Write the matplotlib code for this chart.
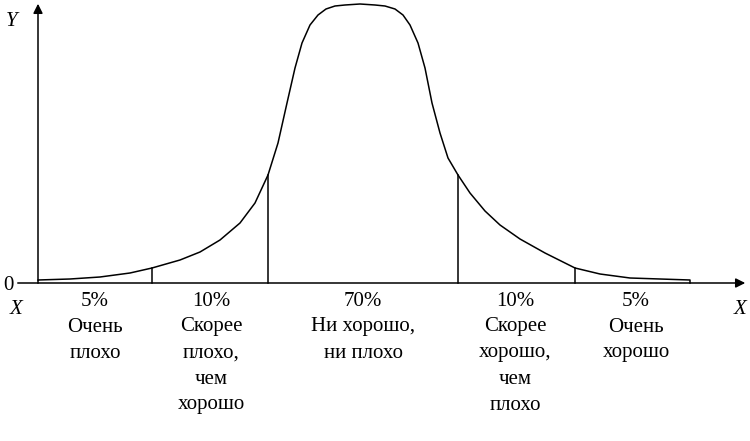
import matplotlib
matplotlib.use("Agg")
import matplotlib.pyplot as plt

plt.rcParams['font.family'] = ['Liberation Serif', 'DejaVu Serif']

# curve (pixel x, height above the x axis in pixels)
curve_x = [38, 38, 70, 100, 130, 152, 180, 200, 220, 240, 255, 268, 278, 287, 295, 302, 310,
           318, 326, 335, 345, 360, 375, 385, 395, 403, 410, 418, 425, 432, 440, 448, 458,
           470, 485, 500, 520, 545, 575, 600, 630, 660, 690, 690]
curve_y = [0, 3, 4, 6, 10, 15, 23, 31, 43, 60, 80, 108, 140, 180, 215, 240, 258,
           268, 274, 277, 278, 279, 278, 277, 274, 268, 258, 240, 215, 180, 150, 125, 108,
           90, 72, 58, 44, 30, 15, 9, 5, 4, 3, 0]
# vertical separators: pixel x and height
sep_x = [152, 268, 458, 575]
sep_h = [15, 108, 108, 15]
# category labels
label_x = [95, 211, 363, 515, 636]
labels = [["5%", "Очень", "плохо"],
          ["10%", "Скорее", "плохо,", "чем", "хорошо"],
          ["70%", "Ни хорошо,", "ни плохо"],
          ["10%", "Скорее", "хорошо,", "чем", "плохо"],
          ["5%", "Очень", "хорошо"]]

fig = plt.figure(figsize=(7.5, 4.41), dpi=100)
ax = fig.add_axes([0, 0, 1, 1])
ax.set_xlim(0, 750)
ax.set_ylim(-158, 283)
ax.axis('off')

ax.plot(curve_x, curve_y, color='black', lw=1.1)
for x, h in zip(sep_x, sep_h):
    ax.plot([x, x], [0, h], color='black', lw=1.1)

ax.annotate('', xy=(748, 0), xytext=(15, 0),
            arrowprops=dict(arrowstyle='-|>', color='black', lw=1.1, mutation_scale=14))
ax.annotate('', xy=(38, 282), xytext=(38, 0),
            arrowprops=dict(arrowstyle='-|>', color='black', lw=1.1, mutation_scale=14))

ax.text(12, 261, 'Y', fontsize=15, style='italic', ha='center', va='center')
ax.text(8, -2, '0', fontsize=15, ha='center', va='center')
ax.text(16, -27, 'X', fontsize=15, style='italic', ha='center', va='center')
ax.text(740, -27, 'X', fontsize=15, style='italic', ha='center', va='center')

for x, lines in zip(label_x, labels):
    for i, t in enumerate(lines):
        ax.text(x, -18 - 26 * i, t, fontsize=15, ha='center', va='center')

fig.savefig('out.png', dpi=100)
